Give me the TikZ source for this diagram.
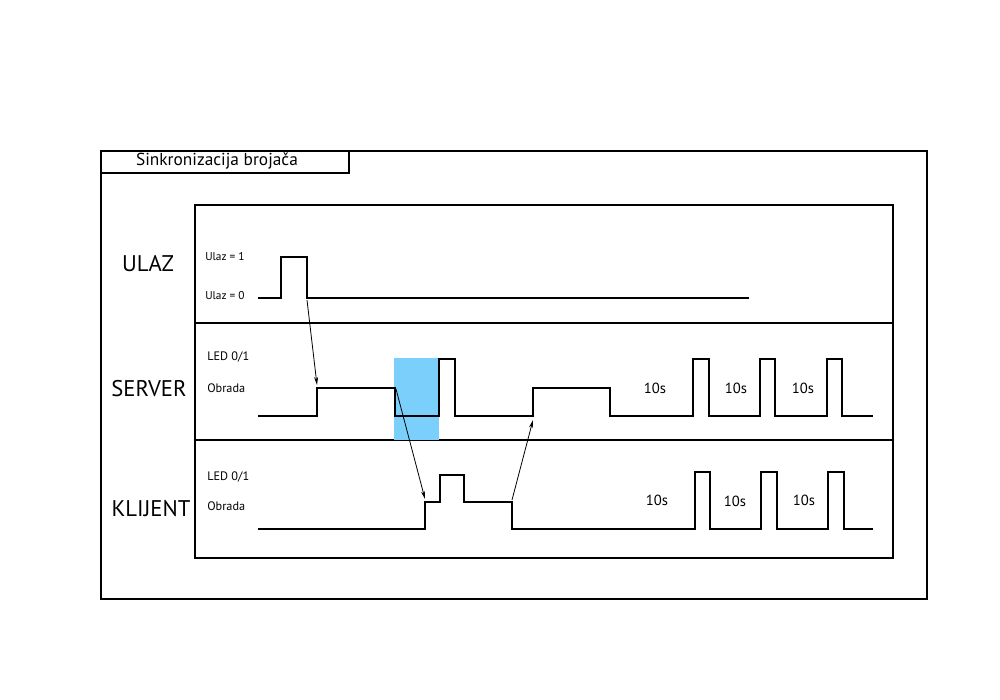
\documentclass[tikz,border=0pt]{standalone}
\usepackage{fontspec}
\setmainfont{PT Sans}
\usetikzlibrary{arrows.meta}
\definecolor{holdblue}{RGB}{122,208,251}
\begin{document}
\begin{tikzpicture}[x=0.75pt,y=-0.75pt,
  frame/.style={draw=black,line width=1.5pt},
  wave/.style={draw=black,line width=1.6pt,line join=miter},
  lane/.style={font=\fontsize{17}{20}\selectfont},
  lvl/.style={font=\fontsize{9.2}{11}\selectfont,anchor=west,inner sep=0pt},
  tinylvl/.style={font=\fontsize{8.5}{10}\selectfont,anchor=west,inner sep=0pt},
  dur/.style={font=\fontsize{11}{13}\selectfont,inner sep=0pt},
  sync/.style={-{Stealth[length=6pt,width=3pt]},line width=0.6pt}]
\useasboundingbox (0,0) rectangle (1000,700);

% outer frame with title tab
\draw[frame] (101,151) rectangle (927,599);
\draw[frame] (101,151) rectangle (349,173);
\node[font=\fontsize{13}{15}\selectfont,inner sep=0pt] (title) at (217,161) {Sinkronizacija brojača};

% timing panel with three lanes
\draw[frame] (195,205) rectangle (893,558);
\draw[frame] (195,323) -- (893,323);
\draw[frame] (195,440) -- (893,440);

% lane names
\node[lane] (ulaz) at (148,264) {ULAZ};
\node[lane] (server) at (149,389) {SERVER};
\node[lane] (klijent) at (151,509) {KLIJENT};

% level labels
\node[tinylvl] (u1) at (205,257) {Ulaz = 1};
\node[tinylvl] (u0) at (205,296) {Ulaz = 0};
\node[lvl] (sled) at (207,357) {LED 0/1};
\node[lvl] (sobr) at (207,388) {Obrada};
\node[lvl] (kled) at (207,477) {LED 0/1};
\node[lvl] (kobr) at (207,506) {Obrada};

% highlighted interval on the server lane
\fill[holdblue] (394,358) rectangle (439,440);

% waveforms
\draw[wave] (258,298) -- (281,298) -- (281,257) -- (307,257) -- (307,298) -- (749,298);
\draw[wave] (258,416) -- (317,416) -- (317,388) -- (395,388) -- (395,416) -- (439,416)
  -- (439,359) -- (455,359) -- (455,416) -- (533,416) -- (533,388) -- (610,388)
  -- (610,416) -- (693,416) -- (693,359) -- (709,359) -- (709,416) -- (760,416)
  -- (760,359) -- (775,359) -- (775,416) -- (827,416) -- (827,359) -- (842,359)
  -- (842,416) -- (873,416);
\draw[wave] (258,529) -- (425,529) -- (425,502) -- (440,502) -- (440,475) -- (464,475)
  -- (464,502) -- (512,502) -- (512,529) -- (695,529) -- (695,472) -- (710,472)
  -- (710,529) -- (761,529) -- (761,472) -- (777,472) -- (777,529) -- (828,529)
  -- (828,472) -- (844,472) -- (844,529) -- (873,529);

% interval labels
\node[dur] (s10a) at (655,388) {10s};
\node[dur] (s10b) at (736,388) {10s};
\node[dur] (s10c) at (803,388) {10s};
\node[dur] (k10a) at (657,500) {10s};
\node[dur] (k10b) at (735,501) {10s};
\node[dur] (k10c) at (804,500) {10s};

% synchronisation arrows
\coordinate (ulazFall) at (307,300);
\coordinate (srvStart) at (317,385);
\coordinate (srvEnd) at (396,389);
\coordinate (kliStart) at (425,499);
\coordinate (kliEnd) at (512,500);
\coordinate (srvResume) at (533,420);
\draw[sync] (ulazFall) -- (srvStart);
\draw[sync] (srvEnd) -- (kliStart);
\draw[sync] (kliEnd) -- (srvResume);
\end{tikzpicture}
\end{document}
